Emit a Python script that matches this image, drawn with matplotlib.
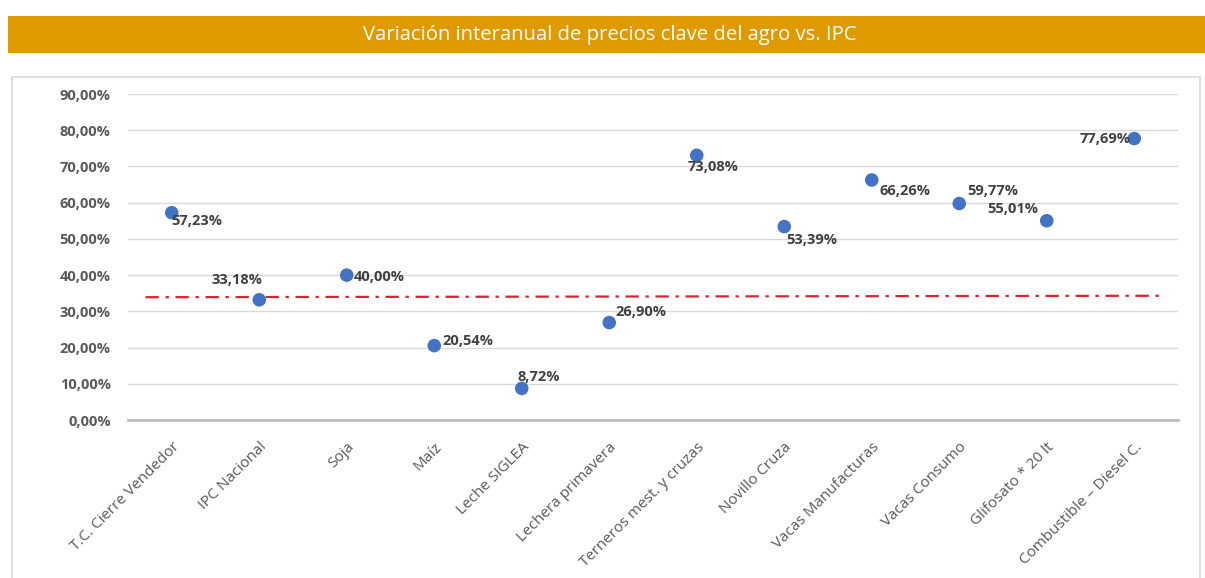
import matplotlib
matplotlib.use("Agg")
import matplotlib.pyplot as plt
from matplotlib.patches import Rectangle
from matplotlib.ticker import FuncFormatter

title = "Variación interanual de precios clave del agro vs. IPC"
categories = ["T.C. Cierre Vendedor", "IPC Nacional", "Soja", "Maíz", "Leche SIGLEA",
              "Lechera primavera", "Terneros mest. y cruzas", "Novillo Cruza",
              "Vacas Manufacturas", "Vacas Consumo", "Glifosato * 20 lt",
              "Combustible – Diesel C."]
values = [57.23, 33.18, 40.00, 20.54, 8.72, 26.90, 73.08, 53.39, 66.26, 59.77, 55.01, 77.69]
ipc_ref = [33.9, 34.3]  # reference dash-dot line (start, end)
yticks = [0, 10, 20, 30, 40, 50, 60, 70, 80, 90]

# label offsets in pixels (dx, dy) and alignment
offsets = [(0, -8, "left"), (-22, 20, "center"), (7, -2, "left"),
           (8, 5, "left"), (-4, 11, "left"), (6, 11, "left"),
           (16, -12, "center"), (2, -13, "left"), (8, -11, "left"),
           (8, 12, "left"), (-9, 12, "right"), (-4, 0, "right")]

W, H = 1205, 578
fig = plt.figure(figsize=(W / 100, H / 100), dpi=100)
fig.patch.set_facecolor("white")

# title band
fig.patches.append(Rectangle((8 / W, 1 - 53 / H), (W - 8) / W, 37 / H,
                             transform=fig.transFigure, facecolor="#DF9A00", edgecolor="none"))
fig.text(610 / W, 1 - 35 / H, title, ha="center", va="center", color="white",
         fontsize=14.6, family="Open Sans")

# chart frame
fig.patches.append(Rectangle((12 / W, -0.02), 1188 / W, 1 - 77 / H + 0.02,
                             transform=fig.transFigure, facecolor="none",
                             edgecolor="#D9D9D9", linewidth=1.2))

ax = fig.add_axes([128 / W, 1 - 420 / H, 1050 / W, (420 - 94) / H])
ax.set_xlim(-0.5, len(categories) - 0.5)
ax.set_ylim(0, 90)
ax.set_yticks(yticks)
ax.yaxis.set_major_formatter(FuncFormatter(lambda v, p: f"{v:.2f}%".replace(".", ",")))
ax.grid(axis="y", color="#D9D9D9", linewidth=1)
ax.set_axisbelow(True)
for s in ["top", "right", "left"]:
    ax.spines[s].set_visible(False)
ax.spines["bottom"].set_color("#BFBFBF")
ax.spines["bottom"].set_linewidth(2)
ax.tick_params(axis="both", length=0)
ax.tick_params(axis="y", pad=12.5, labelsize=10.5, labelcolor="#595959")
for lbl in ax.get_yticklabels():
    lbl.set_fontweight("bold")
    lbl.set_family("Open Sans")

xs = list(range(len(categories)))
ax.set_xticks(xs)
ax.set_xticklabels(categories, rotation=45, ha="right", rotation_mode="anchor",
                   fontsize=11, color="#595959", family="Open Sans")
ax.tick_params(axis="x", pad=14)

ax.plot([-0.3, len(categories) - 0.7], ipc_ref, color="#E0202A", linestyle=(0, (6, 3, 1.5, 3)),
        linewidth=1.6, zorder=2)

ax.scatter(xs, values, s=95, color="#4472C4", zorder=3, edgecolors="none")

for x, v, (dx, dy, ha) in zip(xs, values, offsets):
    ax.annotate(f"{v:.2f}%".replace(".", ","), (x, v), xytext=(dx, dy),
                textcoords="offset pixels", ha=ha, va="center", fontsize=10.5,
                color="#404040", family="Open Sans", fontweight="bold", zorder=4)

fig.savefig("out.png", dpi=100)
